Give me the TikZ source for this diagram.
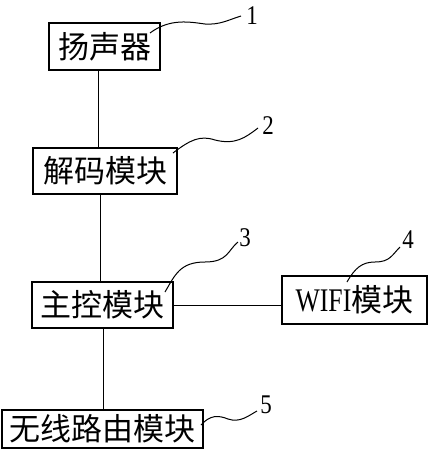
\documentclass[tikz,border=0pt]{standalone}
\usepackage{fontspec}
\setmainfont{Liberation Serif}
\newfontfamily\cjk{Noto Sans CJK SC}
\begin{document}
\begin{tikzpicture}[x=1pt,y=-1pt,
  box/.style={draw,line width=1.2pt,inner sep=0pt,font=\cjk\fontsize{31}{32}\selectfont},
  num/.style={font=\fontsize{27}{27}\selectfont,inner sep=0pt},
  lead/.style={line width=1pt},
  link/.style={line width=1pt}]
\useasboundingbox (0,0) rectangle (429,450);
\node[box,minimum width=111pt,minimum height=47pt] (b1) at (104.5,46.5) {扬声器};
\node[box,minimum width=144pt,minimum height=46pt] (b2) at (105,171) {解码模块};
\node[box,minimum width=141pt,minimum height=46pt] (b3) at (102.5,305) {主控模块};
\node[box,minimum width=145pt,minimum height=48pt] (b4) at (354.5,300) {{\rmfamily\scalebox{0.78}[1]{\fontsize{33}{33}\selectfont WIFI}}模块};
\node[box,minimum width=201pt,minimum height=38pt] (b5) at (102.5,429) {无线路由模块};
% connectors
\draw[link] (98,0 |- b1.south) -- (98,0 |- b2.north);
\draw[link] (100,0 |- b2.south) -- (100,0 |- b3.north);
\draw[link] (b3.east |- 0,305) -- (b4.west |- 0,305);
\draw[link] (103,0 |- b3.south) -- (103,0 |- b5.north);
% labels
\node[num] (n1) at (252,16) {\scalebox{0.85}[1]{1}};
\node[num] (n2) at (268,126) {\scalebox{0.85}[1]{2}};
\node[num] (n3) at (245,238) {\scalebox{0.85}[1]{3}};
\node[num] (n4) at (408,240) {\scalebox{0.85}[1]{4}};
\node[num] (n5) at (266,405) {\scalebox{0.85}[1]{5}};
\coordinate (s1) at (150,33);
\coordinate (s2) at (173,153);
\coordinate (s3) at (165,292);
\coordinate (s4) at (347,282);
\coordinate (s5) at (201,425);
\draw[lead] (s1) .. controls (170,18) and (190,22) .. (205,24) .. controls (220,25) and (228,20) .. (241,16);
\draw[lead] (s2) .. controls (190,140) and (200,135) .. (215,140) .. controls (235,145) and (245,138) .. (258,128);
\draw[lead] (s3) .. controls (175,275) and (180,262) .. (205,262) .. controls (228,262) and (228,250) .. (238,242);
\draw[lead] (s4) .. controls (355,268) and (362,262) .. (375,262) .. controls (390,262) and (392,255) .. (400,247);
\draw[lead] (s5) .. controls (210,415) and (218,415) .. (228,419) .. controls (240,423) and (248,416) .. (257,411);
\end{tikzpicture}
\end{document}
